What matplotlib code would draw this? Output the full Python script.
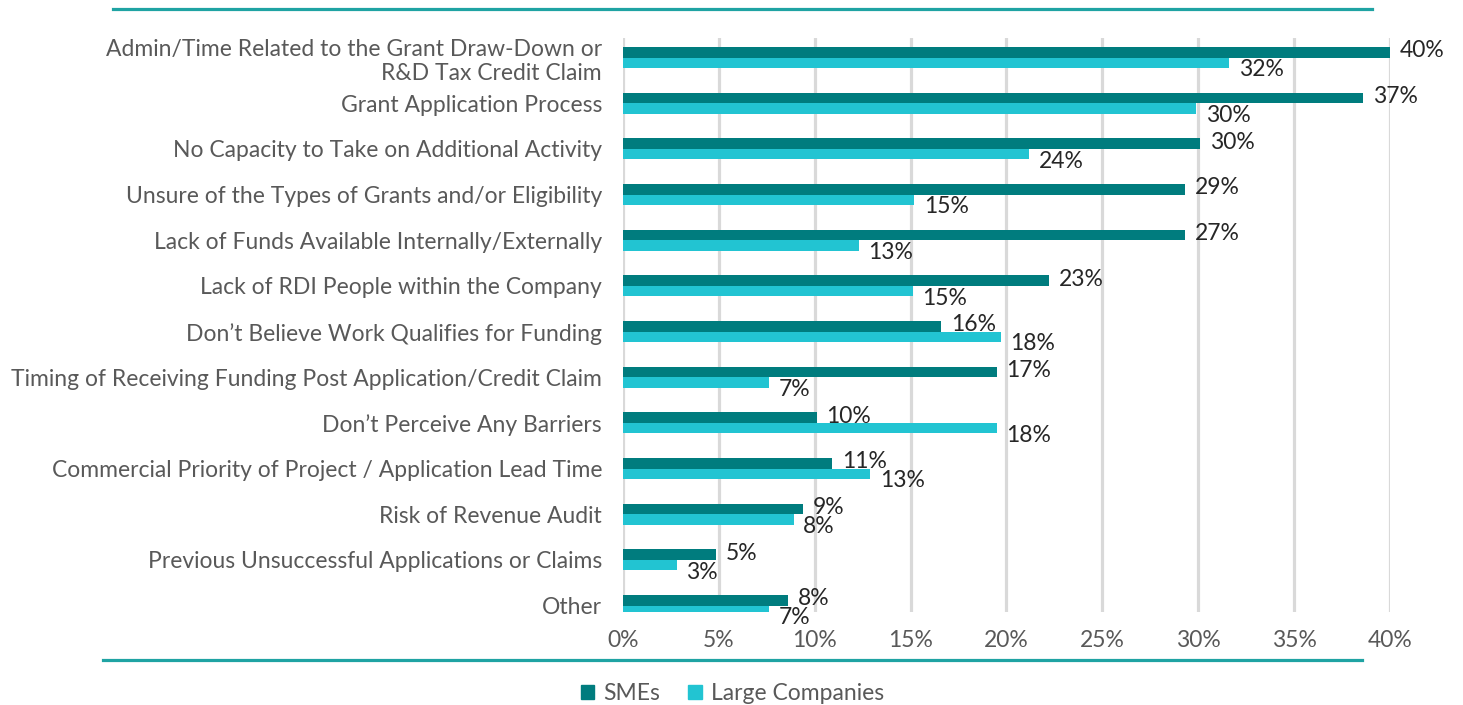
import numpy as np
import matplotlib.pyplot as plt
from matplotlib.lines import Line2D
from matplotlib.patches import Patch

plt.rcParams['font.family'] = ['Lato', 'DejaVu Sans']

# categories, top to bottom
categorias = [
    "Admin/Time Related to the Grant Draw-Down or\nR&D Tax Credit Claim",
    "Grant Application Process",
    "No Capacity to Take on Additional Activity",
    "Unsure of the Types of Grants and/or Eligibility",
    "Lack of Funds Available Internally/Externally",
    "Lack of RDI People within the Company",
    "Don\u2019t Believe Work Qualifies for Funding",
    "Timing of Receiving Funding Post Application/Credit Claim",
    "Don\u2019t Perceive Any Barriers",
    "Commercial Priority of Project / Application Lead Time",
    "Risk of Revenue Audit",
    "Previous Unsuccessful Applications or Claims",
    "Other",
]
# bar lengths as drawn in the picture (%)
smes = [40.0, 38.6, 30.1, 29.3, 29.3, 22.2, 16.6, 19.5, 10.1, 10.9, 9.4, 4.85, 8.6]
grandes = [31.6, 29.9, 21.2, 15.2, 12.3, 15.1, 19.7, 7.6, 19.5, 12.9, 8.9, 2.8, 7.6]
# printed data labels
rotulos_smes = [40, 37, 30, 29, 27, 23, 16, 17, 10, 11, 9, 5, 8]
rotulos_grandes = [32, 30, 24, 15, 13, 15, 18, 7, 18, 13, 8, 3, 7]
ticks_x = [0, 5, 10, 15, 20, 25, 30, 35, 40]

cor_sme = "#007C7E"
cor_grande = "#22C4D2"
cor_linha = "#1FA3A3"
cinza = "#595959"
fs = 16.5

fig = plt.figure(figsize=(14.63, 7.05), dpi=100)
ax = fig.add_axes([0.4258, 0.1319, 0.5243, 0.8142])

y = np.arange(len(categorias))
h = 0.23
ax.barh(y - h / 2, smes, height=h, color=cor_sme, zorder=3)
ax.barh(y + h / 2, grandes, height=h, color=cor_grande, zorder=3)

for i in range(len(categorias)):
    ax.annotate(f"{rotulos_smes[i]}%", (smes[i], y[i] - h / 2), xytext=(7, 1),
                textcoords="offset points", va="center", ha="left",
                fontsize=fs, color="#262626", annotation_clip=False)
    ax.annotate(f"{rotulos_grandes[i]}%", (grandes[i], y[i] + h / 2), xytext=(7, -5),
                textcoords="offset points", va="center", ha="left",
                fontsize=fs, color="#262626", annotation_clip=False)

ax.set_xlim(0, 40)
ax.set_ylim(12.14, -0.43)
ax.set_yticks(y)
ax.set_yticklabels(categorias, fontsize=fs, color=cinza)
ax.set_xticks(ticks_x)
ax.set_xticklabels([f"{t}%" for t in ticks_x], fontsize=fs, color=cinza)
ax.tick_params(axis="y", length=0, pad=15)
ax.tick_params(axis="x", length=0, pad=13)
ax.grid(axis="x", color="#D9D9D9", linewidth=2.3, zorder=0)
for s in ax.spines.values():
    s.set_visible(False)

# teal rules above and below the chart
fig.add_artist(Line2D([113 / 1463, 1372 / 1463], [0.9872, 0.9872], color=cor_linha, lw=2.3))
fig.add_artist(Line2D([103 / 1463, 1362 / 1463], [0.0638, 0.0638], color=cor_linha, lw=2.3))

handles = [Patch(color=cor_sme, label="SMEs"), Patch(color=cor_grande, label="Large Companies")]
fig.legend(handles=handles, loc="center", bbox_to_anchor=(0.5006, 0.016), ncol=2,
           frameon=False, fontsize=fs, labelcolor=cinza, handlelength=0.6, handleheight=0.6,
           handletextpad=0.4, columnspacing=1.2)

plt.savefig("out.png", dpi=100)
